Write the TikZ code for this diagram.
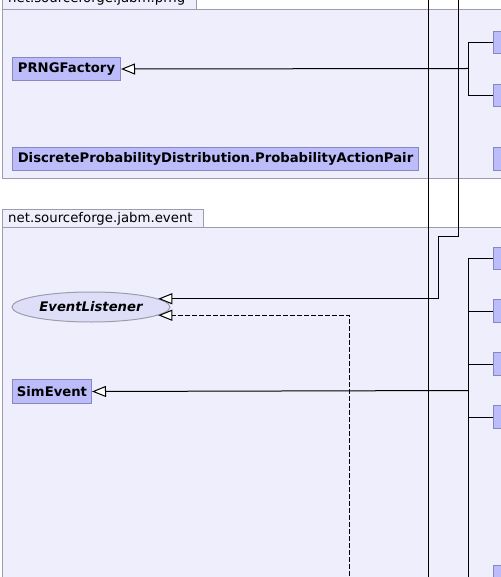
\documentclass[tikz,border=0pt]{standalone}
\usepackage{fontspec}
\setmainfont{DejaVu Sans}
\usetikzlibrary{arrows.meta,shapes.geometric}
\definecolor{pkgfill}{RGB}{238,238,252}
\definecolor{pkgline}{RGB}{156,156,172}
\definecolor{clsfill}{RGB}{188,188,250}
\definecolor{clsline}{RGB}{136,136,192}
\definecolor{ellfill}{RGB}{222,222,248}
\tikzset{
  pkgbody/.style={draw=pkgline,fill=pkgfill,line width=1pt},
  cls/.style={draw=clsline,fill=clsfill,line width=1pt,font=\fontsize{13.2}{16}\selectfont\bfseries,inner sep=0pt,anchor=north west},
  iface/.style={ellipse,draw=pkgline,fill=ellfill,line width=1pt,font=\fontsize{13.2}{16}\selectfont\bfseries\itshape,inner sep=0pt,minimum width=158pt,minimum height=30pt},
  conn/.style={draw=black,line width=1pt},
  inh/.style={conn,-{Triangle[open,length=14pt,width=11pt,fill=white]}},
  realize/.style={inh,dash pattern=on 5pt off 2pt},
}
\begin{document}
\begin{tikzpicture}[x=1pt,y=-1pt]
\useasboundingbox (0,0) rectangle (500,577);
% package prng
\draw[pkgbody] (2,10) rectangle (520,179);
\draw[pkgbody] (2,-10) rectangle (196,10);
\node[anchor=west,font=\fontsize{13.3}{16}\selectfont,inner sep=0pt] (prngtab) at (8,-1) {net.sourceforge.jabm.prng};
% package event
\draw[pkgbody] (2,227) rectangle (520,600);
\draw[pkgbody] (2,209) rectangle (203,227);
\node[anchor=west,font=\fontsize{13.3}{16}\selectfont,inner sep=0pt] (eventtab) at (8,218.5) {net.sourceforge.jabm.event};
% classes prng
\node[cls,minimum width=108pt,minimum height=23pt] (prngf) at (12,57) {PRNGFactory};
\node[cls,minimum width=406pt,minimum height=23pt] (dpd) at (12,147) {DiscreteProbabilityDistribution.ProbabilityActionPair};
\node[cls,minimum width=30pt,minimum height=22pt] (pa) at (493,31) {};
\node[cls,minimum width=30pt,minimum height=22pt] (pb) at (493,84) {};
\node[cls,minimum width=30pt,minimum height=23pt] (pc) at (493,147) {};
% classes event
\node[iface] (el) at (91,307) {EventListener};
\node[cls,minimum width=79pt,minimum height=24pt] (sim) at (12,379) {SimEvent};
\node[cls,minimum width=30pt,minimum height=22pt] (e1) at (493,247) {};
\node[cls,minimum width=30pt,minimum height=23pt] (e2) at (493,299) {};
\node[cls,minimum width=30pt,minimum height=23pt] (e3) at (493,352) {};
\node[cls,minimum width=30pt,minimum height=23pt] (e4) at (493,405) {};
\node[cls,minimum width=30pt,minimum height=23pt] (e5) at (493,565) {};
% coordinates
\coordinate (j1) at (468,68.5);
\coordinate (j2) at (468,390.5);
\coordinate (t1) at (428,-5);
\coordinate (b1) at (428,590);
\coordinate (t2) at (458,-5);
\coordinate (p1) at (458,236);
\coordinate (p2) at (438,236);
\coordinate (d1) at (349,590);
% connectors prng
\draw[conn] (pa.west) -| (j1);
\draw[conn] (pb.west) -| (j1);
\draw[inh] (j1) -- (prngf.east);
% long verticals
\draw[conn] (t1) -- (b1);
\draw[inh] (t2) -- (p1) -- (p2) |- (el.7);
\draw[realize] (d1) |- (el.-7);
% connectors event
\draw[conn] (e1.west) -| (j2);
\draw[conn] (e2.west) -| (j2);
\draw[conn] (e3.west) -| (j2);
\draw[conn] (e4.west) -| (j2);
\draw[conn] (e5.west) -| (j2);
\draw[inh] (j2) -- (sim.east);
\end{tikzpicture}
\end{document}
